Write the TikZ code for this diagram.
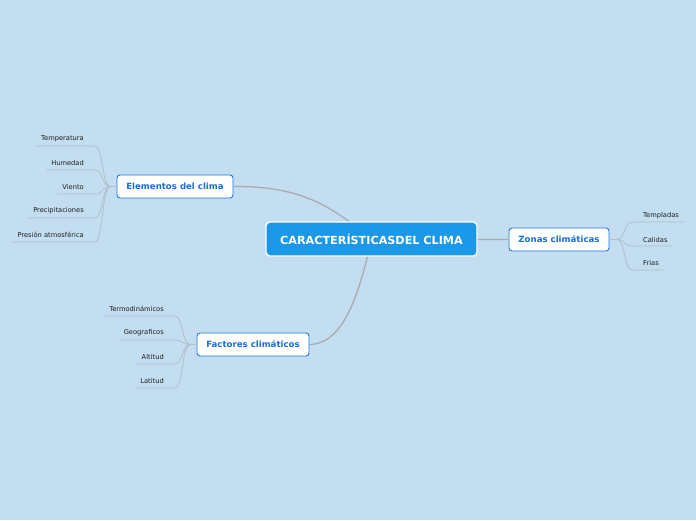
\documentclass[tikz,border=0pt]{standalone}
\usepackage{fontspec}
\setmainfont{DejaVu Sans}
\usetikzlibrary{calc}
\definecolor{bg}{RGB}{194,222,240}
\definecolor{cfill}{RGB}{28,152,232}
\definecolor{bblue}{RGB}{30,118,226}
\definecolor{btext}{RGB}{26,110,216}
\definecolor{mline}{RGB}{168,172,176}
\definecolor{lline}{RGB}{178,190,200}
\definecolor{ltext}{RGB}{30,30,30}
\tikzset{
  central/.style={draw=white, line width=1.3pt, fill=cfill, rounded corners=4pt, text=white,
    font=\fontsize{11.2}{13}\selectfont\bfseries, minimum width=211pt, minimum height=34pt, inner sep=0pt},
  branch/.style={draw=bblue, line width=0.9pt, fill=white, rounded corners=3pt, text=btext,
    font=\fontsize{8.6}{10}\selectfont\bfseries, minimum height=23pt, inner sep=0pt},
  leafL/.style={anchor=east, text=ltext, font=\fontsize{6.7}{8}\selectfont, inner sep=0pt},
  leafR/.style={anchor=west, text=ltext, font=\fontsize{6.7}{8}\selectfont, inner sep=0pt},
  mainconn/.style={draw=mline, line width=1.3pt},
  leafconn/.style={draw=lline, line width=0.8pt},
}
\begin{document}
\begin{tikzpicture}[x=1pt,y=-1pt]
\fill[bg] (0,0) rectangle (696,520);
\useasboundingbox (0,0) rectangle (696,520);

% coordinates for main connectors
\coordinate (cc) at (371.5,239);

% branch nodes
\node[branch, minimum width=116pt] (elem) at (175,186.5) {Elementos del clima};
\node[branch, minimum width=112pt] (fact) at (253,344.5) {Factores climáticos};
\node[branch, minimum width=100pt] (zona) at (559,239.5) {Zonas climáticas};

% main connectors (behind central node)
\draw[mainconn] (elem.east) .. controls (300,186) and (330,205) .. (cc);
\draw[mainconn] (fact.east) .. controls (345,344) and (360,290) .. (cc);
\draw[mainconn] (cc) -- (zona.west);

\node[central] (center) at (cc) {CARACTERÍSTICASDEL CLIMA};

% Elementos leaves
\coordinate (ein) at (110,186.5);
\draw[leafconn] (elem.west) -- (ein);
\node[leafL] (e1) at (84,139) {Temperatura};
\node[leafL] (e2) at (84,163) {Humedad};
\node[leafL] (e3) at (84,187) {Viento};
\node[leafL] (e4) at (84,211) {Precipitaciones};
\node[leafL] (e5) at (84,235) {Presión atmosférica};
\coordinate (e1a) at (36,146); \coordinate (e1b) at (95,146);
\coordinate (e2a) at (46,170); \coordinate (e2b) at (95,170);
\coordinate (e3a) at (57,194); \coordinate (e3b) at (95,194);
\coordinate (e4a) at (28,218); \coordinate (e4b) at (95,218);
\coordinate (e5a) at (12,242); \coordinate (e5b) at (95,242);
\foreach \i in {1,...,5}{
  \draw[leafconn] (e\i a) -- (e\i b) .. controls ($(e\i b)+(8,0)$) and ($(ein)+(-8,0)$) .. (ein);
}

% Factores leaves
\coordinate (fin) at (190,344.5);
\draw[leafconn] (fact.west) -- (fin);
\node[leafL] (f1) at (164,309) {Termodinámicos};
\node[leafL] (f2) at (164,333) {Geograficos};
\node[leafL] (f3) at (164,357) {Altitud};
\node[leafL] (f4) at (164,381) {Latitud};
\coordinate (f1a) at (104,316); \coordinate (f1b) at (175,316);
\coordinate (f2a) at (119,340); \coordinate (f2b) at (175,340);
\coordinate (f3a) at (136,364); \coordinate (f3b) at (175,364);
\coordinate (f4a) at (135,388); \coordinate (f4b) at (175,388);
\foreach \i in {1,...,4}{
  \draw[leafconn] (f\i a) -- (f\i b) .. controls ($(f\i b)+(8,0)$) and ($(fin)+(-8,0)$) .. (fin);
}

% Zonas leaves
\coordinate (zout) at (617,239.5);
\draw[leafconn] (zona.east) -- (zout);
\node[leafR] (z1) at (643,216) {Templadas};
\node[leafR] (z2) at (643,240) {Calidas};
\node[leafR] (z3) at (643,263) {Frias};
\coordinate (z1a) at (632,222); \coordinate (z1b) at (683,222);
\coordinate (z2a) at (632,246); \coordinate (z2b) at (672,246);
\coordinate (z3a) at (632,270); \coordinate (z3b) at (664,270);
\foreach \i in {1,...,3}{
  \draw[leafconn] (zout) .. controls ($(zout)+(8,0)$) and ($(z\i a)+(-8,0)$) .. (z\i a) -- (z\i b);
}
\end{tikzpicture}
\end{document}
